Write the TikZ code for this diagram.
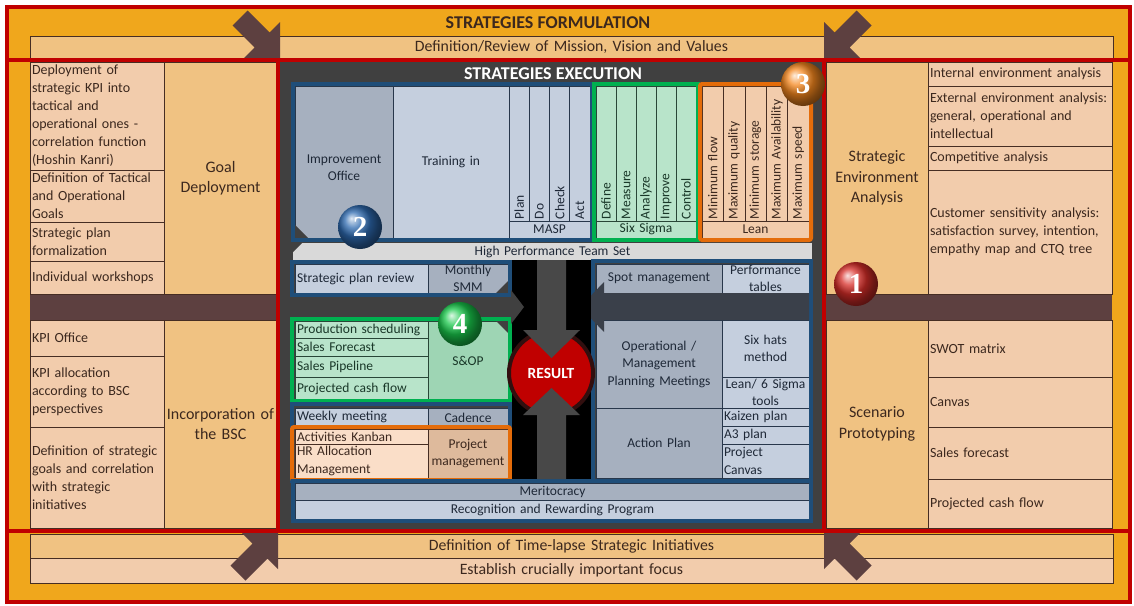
\documentclass[tikz,border=0pt]{standalone}
\usepackage{fontspec}
\setmainfont{Carlito}
\newfontfamily\numfont{Liberation Serif}

\definecolor{orangebg}{RGB}{240,167,28}
\definecolor{redline}{RGB}{192,0,0}
\definecolor{tan}{RGB}{240,194,130}
\definecolor{peach}{RGB}{242,204,172}
\definecolor{peachlt}{RGB}{250,222,200}
\definecolor{tandk}{RGB}{222,186,156}
\definecolor{brownarr}{RGB}{93,64,64}
\definecolor{brownline}{RGB}{70,45,35}
\definecolor{browntxt}{RGB}{60,40,30}
\definecolor{panel}{RGB}{64,64,64}
\definecolor{bluefr}{RGB}{31,78,121}
\definecolor{bluelt}{RGB}{197,207,222}
\definecolor{bluedk}{RGB}{166,176,191}
\definecolor{blueline}{RGB}{40,55,75}
\definecolor{bluetxt}{RGB}{30,40,55}
\definecolor{greenfr}{RGB}{0,176,80}
\definecolor{greenlt}{RGB}{184,228,202}
\definecolor{greendk}{RGB}{158,213,180}
\definecolor{greenline}{RGB}{40,70,55}
\definecolor{greentxt}{RGB}{25,55,40}
\definecolor{orangefr}{RGB}{228,108,10}
\definecolor{hpgray}{RGB}{217,217,217}
\definecolor{arrowgray}{RGB}{72,72,72}
\definecolor{bandgray}{RGB}{58,64,74}
\definecolor{ringdark}{RGB}{50,15,15}
\definecolor{ballred}{RGB}{215,45,40}
\definecolor{ballblue}{RGB}{45,105,175}
\definecolor{ballorange}{RGB}{245,135,30}
\definecolor{ballgreen}{RGB}{25,200,75}

\newcommand\cellfont{\fontsize{13.5}{17.5}\selectfont}
\newcommand\peachfont{\fontsize{14}{18}\selectfont}
\newcommand\colfont{\fontsize{16}{20.5}\selectfont}
\newcommand\bandfont{\fontsize{15.8}{18}\selectfont}
\newcommand\headfont{\fontsize{18}{21}\selectfont\bfseries}
\newcommand\resfont{\fontsize{15.5}{18}\selectfont\bfseries}
\newcommand\badgefont{\fontsize{29}{30}\selectfont\numfont\bfseries}

\begin{document}
\begin{tikzpicture}[x=1pt,y=-1pt,
    every node/.style={font=\cellfont},
    sz/.style 2 args={minimum width=#1,minimum height=#2,text width=\the\dimexpr#1pt-4pt\relax},
    cellbase/.style={anchor=north west,inner xsep=2,inner ysep=0,outer sep=0,line width=0.6},
    pcell/.style={cellbase,fill=peach,draw=brownline,text=browntxt,align=left,font=\peachfont},
    tcell/.style={cellbase,fill=tan,draw=brownline,text=browntxt,align=center,font=\colfont},
    bcell/.style={cellbase,fill=bluelt,draw=blueline,text=bluetxt,align=center},
    bdcell/.style={bcell,fill=bluedk},
    gcell/.style={cellbase,fill=greenlt,draw=greenline,text=greentxt,align=left},
    gdcell/.style={gcell,fill=greendk,align=center},
    ocell/.style={cellbase,fill=peachlt,draw=brownline,text=browntxt,align=left},
    odcell/.style={ocell,fill=tandk,align=center},
    vcell/.style={rotate=90,anchor=north east,inner xsep=2,inner ysep=0,outer sep=0,line width=0.6,align=left},
    band/.style={cellbase,draw=brownline,text=browntxt,align=center,font=\bandfont},
    boxframe/.style={line width=4,draw=#1},
    badge/.style={circle,minimum size=44,inner sep=0,text=white,font=\badgefont},
    result/.style={circle,fill=redline,draw=ringdark,line width=4,minimum size=84,inner sep=0,text=white,font=\resfont}
]
\useasboundingbox (0,0) rectangle (1134,605);

% Tło i ramka zewnętrzna
\fill[white] (0,0) rectangle (1134,605);
\fill[orangebg] (7,7) rectangle (1130,602);
\node[font=\headfont,text=browntxt] (formulation) at (548,23) {STRATEGIES FORMULATION};
\node[band,fill=tan,sz={1083}{22}] (mission) at (30,36) {Definition/Review of Mission, Vision and Values};
\node[band,fill=tan,sz={1083}{24}] (timelapse) at (30,534) {Definition of Time-lapse Strategic Initiatives};
\node[band,fill=peach,sz={1083}{25}] (focus) at (30,558) {Establish crucially important focus};

% Pasy brązowe
\fill[brownarr] (30,294) rectangle (277,320);
\fill[brownarr] (826,294) rectangle (1112,320);

% Lewa kolumna
\node[pcell,sz={134}{108}] (kpideploy) at (30,62) {Deployment of\\strategic KPI into\\tactical and\\operational ones -\\correlation function\\(Hoshin Kanri)};
\node[pcell,sz={134}{52}] (tactgoals) at (30,170) {Definition of Tactical\\and Operational\\Goals};
\node[pcell,sz={134}{39}] (formal) at (30,222) {Strategic plan\\formalization};
\node[pcell,sz={134}{33}] (workshops) at (30,261) {Individual workshops};
\node[tcell,sz={113}{232}] (goaldep) at (164,62) {Goal\\Deployment};
\node[pcell,sz={134}{36}] (kpioffice) at (30,320) {KPI Office};
\node[pcell,sz={134}{71}] (kpialloc) at (30,356) {KPI allocation\\according to BSC\\perspectives};
\node[pcell,sz={134}{101}] (stratgoals) at (30,427) {Definition of strategic\\goals and correlation\\with strategic\\initiatives};
\node[tcell,sz={113}{208}] (bsc) at (164,320) {Incorporation of\\the BSC};

% Prawa kolumna
\node[tcell,sz={102}{232}] (envan) at (826,62) {Strategic\\Environment\\Analysis};
\node[pcell,sz={184}{24}] (internal) at (928,62) {Internal environment analysis};
\node[pcell,sz={184}{60}] (external) at (928,86) {External environment analysis:\\general, operational and\\intellectual};
\node[pcell,sz={184}{24}] (compet) at (928,146) {Competitive analysis};
\node[pcell,sz={184}{124}] (customer) at (928,170) {Customer sensitivity analysis:\\satisfaction survey, intention,\\empathy map and CTQ tree};
\node[tcell,sz={102}{208}] (scenario) at (826,320) {Scenario\\Prototyping};
\node[pcell,sz={184}{57}] (swot) at (928,320) {SWOT matrix};
\node[pcell,sz={184}{50}] (canvas) at (928,377) {Canvas};
\node[pcell,sz={184}{52}] (salesfcast) at (928,427) {Sales forecast};
\node[pcell,sz={184}{49}] (projcash) at (928,479) {Projected cash flow};

% Część środkowa
\fill[panel] (280,62) rectangle (822,529);
\node[font=\headfont,text=white] (execution) at (553,74) {STRATEGIES EXECUTION};

\node[bdcell,sz={98}{152}] (improvement) at (295,86) {\mbox{}\\[3pt]Improvement\\Office};
\node[bcell,sz={116}{152}] (training) at (393,86) {\mbox{}\\[-8pt]Training in};
\fill[panel] (295,225) -- (295,238) -- (308,238) -- cycle;
\foreach \t [count=\i from 0] in {Plan,Do,Check,Act}
  \node[vcell,fill=bluelt,draw=blueline,text=bluetxt,sz={135}{20.25}] (masp\i) at (509+20.25*\i,86) {\t};
\node[bcell,sz={81}{17}] (masp) at (509,221) {MASP};
\foreach \t [count=\i from 0] in {Define,Measure,Analyze,Improve,Control}
  \node[vcell,fill=greenlt,draw=greenline,text=greentxt,sz={135}{20}] (sigma\i) at (596+20*\i,86) {\t};
\node[gcell,align=center,sz={100}{17}] (sixsigma) at (596,221) {Six Sigma};
\foreach \t [count=\i from 0] in {Minimum flow,Maximum quality,Minimum storage,Maximum Availability,Maximum speed}
  \node[vcell,fill=peach,draw=brownline,text=browntxt,sz={135}{21.4}] (lean\i) at (702+21.4*\i,86) {\t};
\node[ocell,fill=peach,align=center,sz={107}{17}] (lean) at (702,221) {Lean};
\draw[boxframe=bluefr] (293,84) rectangle (592,240);
\draw[boxframe=greenfr] (594,84) rectangle (698,240);
\draw[boxframe=orangefr,rounded corners=2] (700,84) rectangle (811,240);

\node[cellbase,fill=hpgray,text=bluetxt,align=center,sz={519}{17}] (hpts) at (293,243) {High Performance Team Set};
\fill[panel] (292,242) -- (303,242) -- (292,253) -- cycle;

% Lewa strona środka
\node[bcell,align=left,sz={133}{29}] (planreview) at (295,264) {Strategic plan review};
\node[bdcell,sz={80}{29}] (smm) at (428,264) {Monthly\\SMM};
\fill[panel] (496,293) -- (508,293) -- (508,281) -- cycle;
\draw[boxframe=bluefr] (292,262) rectangle (510,295);

\node[gcell,sz={133}{17}] (prodsched) at (295,321) {Production scheduling};
\node[gcell,sz={133}{18}] (salesfc) at (295,338) {Sales Forecast};
\node[gcell,sz={133}{21}] (pipeline) at (295,356) {Sales Pipeline};
\node[gcell,sz={133}{23}] (cashflow) at (295,377) {Projected cash flow};
\node[gdcell,sz={80}{79}] (sop) at (428,321) {S\&OP};
\fill[panel] (496,321) -- (508,321) -- (508,333) -- cycle;
\draw[boxframe=greenfr] (292,319) rectangle (510,401);

\node[bcell,align=left,sz={133}{17}] (weekly) at (295,408) {Weekly meeting};
\node[bdcell,sz={80}{20}] (cadence) at (428,408) {Cadence};
\node[ocell,sz={133}{15}] (kanban) at (295,429) {Activities Kanban};
\node[ocell,sz={133}{34}] (hralloc) at (295,444) {HR Allocation\\Management};
\node[odcell,sz={80}{49}] (projmgmt) at (428,429) {Project\\management};
\draw[boxframe=bluefr] (292,404) rectangle (510,481);
\draw[boxframe=orangefr,rounded corners=2] (292,427) rectangle (510,480);

\node[bdcell,sz={515}{17}] (merit) at (295,483) {Meritocracy};
\node[bcell,sz={515}{19}] (recognition) at (295,500) {Recognition and Rewarding Program};
\draw[boxframe=bluefr] (293,481) rectangle (811,521);

% Prawa strona środka
\node[bdcell,sz={126}{29}] (spot) at (596,264) {Spot management};
\node[bcell,sz={87}{29}] (perftab) at (722,264) {Performance\\tables};
\node[bdcell,sz={126}{88}] (opmeet) at (596,320) {Operational /\\Management\\Planning Meetings};
\node[bcell,sz={87}{57}] (sixhats) at (722,320) {Six hats\\method};
\node[bcell,sz={87}{31}] (leantools) at (722,377) {Lean/ 6 Sigma\\tools};
\node[bdcell,sz={126}{70}] (actionplan) at (596,408) {Action Plan};
\node[bcell,align=left,sz={87}{18}] (kaizen) at (722,408) {Kaizen plan};
\node[bcell,align=left,sz={87}{18}] (athree) at (722,426) {A3 plan};
\node[bcell,align=left,sz={87}{34}] (projcanvas) at (722,444) {Project\\Canvas};
\draw[boxframe=bluefr] (593,261) rectangle (811,481);
\fill[bandgray] (809,293) -- (604,293) -- (604,282) -- (580,307) -- (604,332) -- (604,320) -- (809,320) -- cycle;

% Wynik
\fill[black] (512,260) rectangle (591,479);
\fill[panel] (511,290) -- (524,307) -- (511,324) -- cycle;
\node[result] (result) at (551,373) {RESULT};
\fill[arrowgray] (537,260) -- (566,260) -- (566,330) -- (580,330) -- (551.5,358) -- (523,330) -- (537,330) -- cycle;
\fill[arrowgray] (537,479) -- (566,479) -- (566,415) -- (580,415) -- (551.5,388) -- (523,415) -- (537,415) -- cycle;

% Strzałki narożne
\foreach \px/\py/\sx/\sy in {280/58/1/1, 824/58/-1/1, 278/533/1/-1, 824/533/-1/-1}
  \fill[brownarr,shift={(\px,\py)},xscale=\sx,yscale=\sy]
    (-32.5,-47.5) -- (-10.5,-25.5) -- (0,-36) -- (0,0) -- (-36,0) -- (-25.5,-10.5) -- (-47.5,-32.5) -- cycle;

% Czerwone linie
\draw[redline,line width=4] (7,60) -- (1130,60);
\draw[redline,line width=4] (7,531) -- (1130,531);
\draw[redline,line width=4] (278,60) -- (278,531);
\draw[redline,line width=4] (824,60) -- (824,531);
\draw[redline,line width=4] (7,7) rectangle (1130,602);

% Numery
\node[badge,ball color=ballred] (one) at (856,284) {1};
\node[badge,ball color=ballblue] (two) at (360,227) {2};
\node[badge,ball color=ballorange] (three) at (803,84) {3};
\node[badge,ball color=ballgreen] (four) at (460,324) {4};

\end{tikzpicture}
\end{document}
